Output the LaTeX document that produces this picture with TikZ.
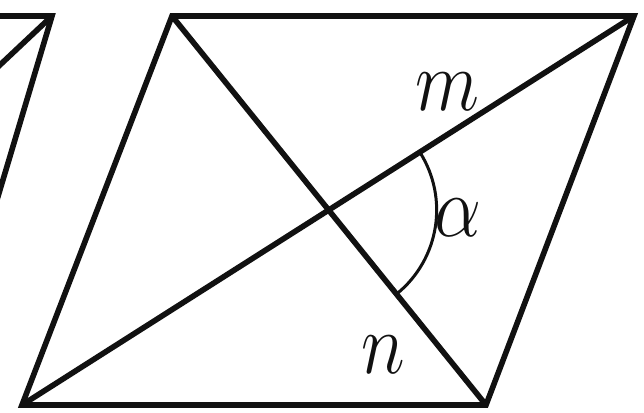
\documentclass[tikz,border=0pt]{standalone}
\usepackage{xcolor}
\usepackage{tikz}
\usetikzlibrary{calc,intersections}
\definecolor{plgink}{HTML}{111111}
\tikzset{%
  plgedge/.style={%
    draw=plgink,
    line width=2.8pt,
    line join=miter,
    line cap=butt
  },
  plgarc/.style={%
    draw=plgink,
    line width=1.5pt
  },
  plglabel/.style={%
    text=plgink,
    inner sep=0pt,
    xscale=1.5,
    yscale=1.75,
    transform shape,
    font=\Huge
  }
}
\begin{document}
\begin{tikzpicture}[x=0.5pt,y=0.5pt]
    \useasboundingbox (0,0) rectangle (644,413);
    \clip (0,0) rectangle (644,413);

    % parallelogram corners
    \coordinate (bl) at (22,8);
    \coordinate (br) at (486,8);
    \coordinate (tr) at (634,397);
    \coordinate (tl) at (172,397);

    % neighbouring figure, cut off at the left border
    \coordinate (prevtop) at (52,397);
    \draw[plgedge] (-100,397) -- (prevtop) -- (-30,123);
    \draw[plgedge] (prevtop) -- (-50,301);

    \draw[plgedge] (bl) -- (br) -- (tr) -- (tl) -- cycle;
    \draw[plgedge,name path=diagm] (bl) -- (tr);
    \draw[plgedge,name path=diagn] (tl) -- (br);
    \path[name intersections={of=diagm and diagn,by=ctr}];

    % angle between the diagonals
    \draw[plgarc] ([shift={(32.4:108)}]ctr) arc[start angle=32.4,end angle=-51,radius=108];

    \node[plglabel] (lblm) at (447,321) {$m$};
    \node[plglabel] (lbla) at (458,195) {$\alpha$};
    \node[plglabel] (lbln) at (383,58) {$n$};
  \end{tikzpicture}
\end{document}
